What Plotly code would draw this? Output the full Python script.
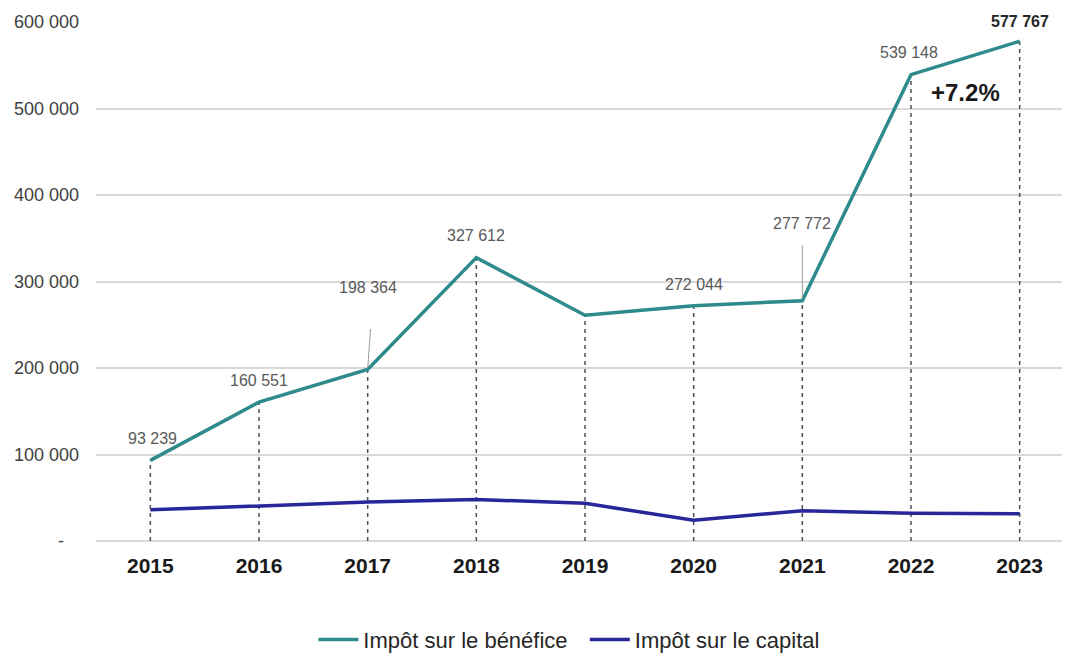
import plotly.graph_objects as go

years = [2015, 2016, 2017, 2018, 2019, 2020, 2021, 2022, 2023]
benefice = [93239, 160551, 198364, 327612, 261000, 272044, 277772, 539148, 577767]
capital = [36000, 40500, 45000, 48000, 43500, 24000, 35000, 32000, 31500]

y_ticks = [0, 100000, 200000, 300000, 400000, 500000, 600000]
y_labels = ["-\u00a0\u00a0\u00a0", "100 000", "200 000", "300 000", "400 000", "500 000", "600 000"]

# which points get a value label, and where (x offset, y offset, leader line?)
label_pos = {
    2015: (2, -22, False),
    2016: (0, -22, False),
    2017: (0, -82, True),
    2018: (0, -22, False),
    2020: (0, -21, False),
    2021: (0, -77, True),
    2022: (-2, -22, False),
    2023: (0, -20, False),
}

teal = "#2e8a8b"
navy = "#27279a"
font = "Liberation Sans, Arial, sans-serif"


def fmt(v):
    return f"{v:,}".replace(",", " ")


# dashed drop lines from each point down to the axis
drop_x, drop_y = [], []
for x, v in zip(years, benefice):
    drop_x += [x, x, None]
    drop_y += [0, v, None]

fig = go.Figure()
fig.add_trace(go.Scatter(x=drop_x, y=drop_y, mode="lines", showlegend=False, hoverinfo="skip",
                         line=dict(color="#505050", width=1.5, dash="4px,4px")))
fig.add_trace(go.Scatter(x=years, y=benefice, mode="lines", name="Impôt sur le bénéfice\u00a0\u00a0",
                         line=dict(color=teal, width=3.5)))
fig.add_trace(go.Scatter(x=years, y=capital, mode="lines", name="Impôt sur le capital",
                         line=dict(color=navy, width=3.5)))

for x, v in zip(years, benefice):
    if x not in label_pos:
        continue
    dx, dy, leader = label_pos[x]
    last = x == years[-1]
    fig.add_annotation(x=x, y=v, text=fmt(v), showarrow=False, xshift=dx, yshift=-dy,
                       font=dict(family=font, size=16, color="#262626" if last else "#595959",
                                 weight="bold" if last else "normal"))
    if leader:
        fig.add_annotation(x=x, y=v, text="", showarrow=True, arrowhead=0, arrowwidth=1,
                           arrowcolor="#9a9a9a", ax=3 if x == 2017 else 0,
                           ay=dy + (40 if x == 2017 else 20), standoff=2)

fig.add_annotation(x=2022.5, y=(benefice[-2] + benefice[-1]) / 2 - 40000, text="+7.2%", showarrow=False,
                   font=dict(family=font, size=24, color="#1a1a1a", weight="bold"))

fig.update_layout(
    width=1070, height=657,
    margin=dict(l=88, r=4, t=10, b=124),
    plot_bgcolor="white", paper_bgcolor="white",
    font=dict(family=font, color="#404040"),
    showlegend=True,
    legend=dict(orientation="h", x=0.484, xanchor="center", y=-0.19, yanchor="middle",
                font=dict(family=font, size=22, color="#262626"), itemwidth=40),
    xaxis=dict(range=[2014.5, 2023.5], tickvals=years, ticktext=[str(y) for y in years],
               showgrid=False, zeroline=False, showline=False, ticks="",
               ticklabelstandoff=10,
               tickfont=dict(family=font, size=21, color="#1a1a1a", weight="bold")),
    yaxis=dict(range=[0, 600000], tickvals=y_ticks, ticktext=y_labels,
               showgrid=True, gridcolor="#d9d9d9", gridwidth=1.5,
               zeroline=True, zerolinecolor="#d9d9d9", zerolinewidth=1.5,
               showline=False, ticks="", ticklabelstandoff=16,
               tickfont=dict(family=font, size=18, color="#404040")),
)

fig.write_html("out.html")
